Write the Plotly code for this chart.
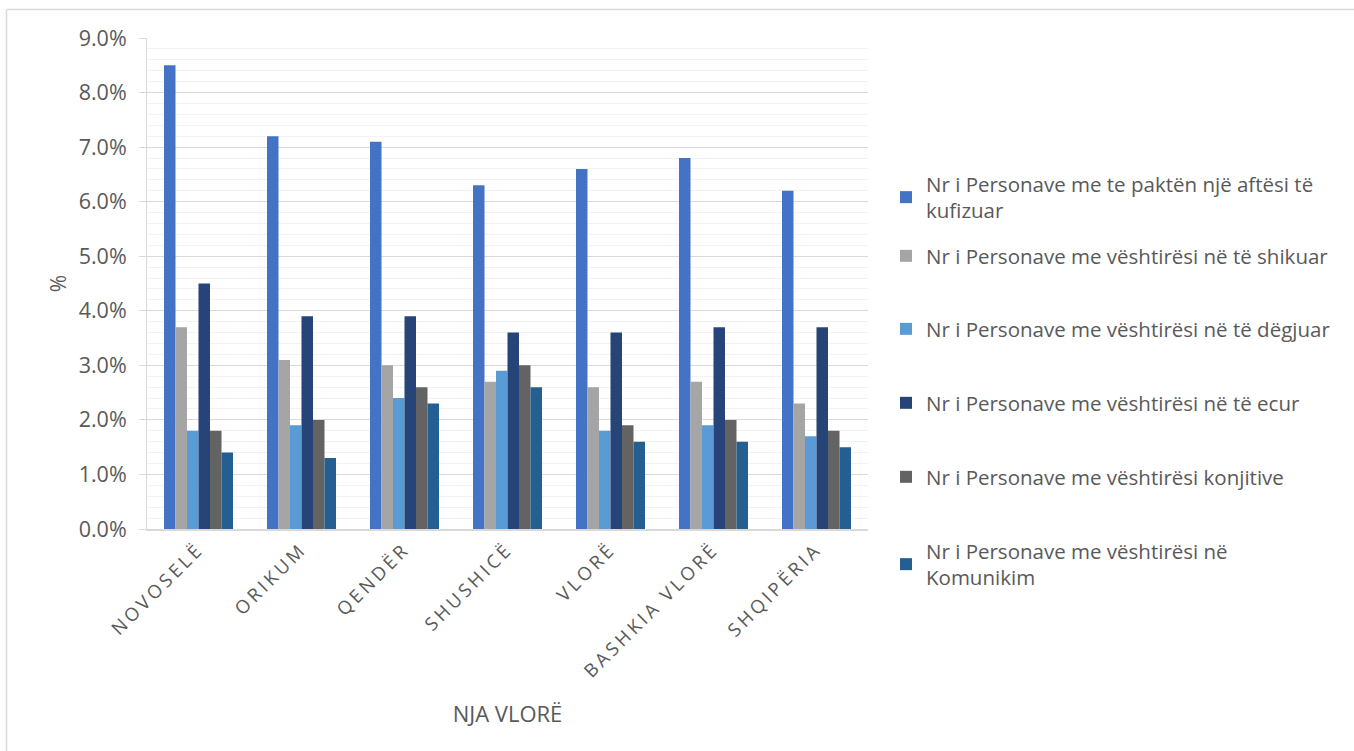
import plotly.graph_objects as go

categories = ["NOVOSELË", "ORIKUM", "QENDËR", "SHUSHICË", "VLORË", "BASHKIA VLORË", "SHQIPËRIA"]

series_names = [
    "Nr i Personave me te paktën një aftësi të<br>kufizuar",
    "Nr i Personave me vështirësi në të shikuar",
    "Nr i Personave me vështirësi në të dëgjuar",
    "Nr i Personave me vështirësi në të ecur",
    "Nr i Personave me vështirësi konjitive",
    "Nr i Personave me vështirësi në<br>Komunikim",
]

at_least_one = [8.5, 7.2, 7.1, 6.3, 6.6, 6.8, 6.2]
seeing = [3.7, 3.1, 3.0, 2.7, 2.6, 2.7, 2.3]
hearing = [1.8, 1.9, 2.4, 2.9, 1.8, 1.9, 1.7]
walking = [4.5, 3.9, 3.9, 3.6, 3.6, 3.7, 3.7]
cognitive = [1.8, 2.0, 2.6, 3.0, 1.9, 2.0, 1.8]
communication = [1.4, 1.3, 2.3, 2.6, 1.6, 1.6, 1.5]

series_values = [at_least_one, seeing, hearing, walking, cognitive, communication]
colors = ["#4472C4", "#A5A5A5", "#5B9BD5", "#264478", "#636363", "#255E91"]

W, H = 1354, 751
L, R, T, B = 147, 868, 38, 529

FONT = "Open Sans"
GREY = "#595959"

fig = go.Figure()
legend_first_line_y = [185, 257, 330, 404, 478, 552]
legend_ids = ["legend", "legend2", "legend3", "legend4", "legend5", "legend6"]

for i, (name, vals, col) in enumerate(zip(series_names, series_values, colors)):
    fig.add_trace(go.Bar(
        x=categories,
        y=[v / 100 for v in vals],
        name=name,
        marker=dict(color=col, line=dict(width=0)),
        legend=legend_ids[i],
    ))

layout_legends = {}
for i, lid in enumerate(legend_ids):
    layout_legends[lid] = dict(
        x=886 / W, xref="container", xanchor="left",
        y=1 - (legend_first_line_y[i] - 21) / H, yref="container", yanchor="top",
        font=dict(family=FONT, size=20.5, color=GREY),
        bgcolor="rgba(0,0,0,0)",
        itemclick=False, itemdoubleclick=False,
        itemwidth=30,
    )

fig.update_layout(
    width=W, height=H,
    margin=dict(l=L, r=W - R, t=T, b=H - B, pad=0),
    paper_bgcolor="white", plot_bgcolor="white",
    barmode="group", bargap=0.33, bargroupgap=0,
    font=dict(family=FONT, color=GREY),
    showlegend=True,
    **layout_legends,
)

fig.update_yaxes(
    range=[0, 0.09], dtick=0.01, tickformat=".1%",
    tickfont=dict(family=FONT, size=21.5, color=GREY),
    showgrid=True, gridcolor="#D9D9D9", gridwidth=1,
    minor=dict(dtick=0.002, showgrid=True, gridcolor="#F2F2F2", gridwidth=1),
    showline=True, linecolor="#D9D9D9", linewidth=1,
    ticks="outside", ticklen=7, tickcolor="#D9D9D9",
    ticklabelstandoff=8,
    zeroline=False,
    title=dict(text="%", font=dict(family=FONT, size=21, color=GREY), standoff=6),
)

tick_text = ['<span style="letter-spacing:3.4px">%s</span>' % c for c in categories]

fig.update_xaxes(
    tickangle=-45,
    tickmode="array", tickvals=categories, ticktext=tick_text,
    tickfont=dict(family=FONT, size=18.5, color=GREY),
    showline=True, linecolor="#D9D9D9", linewidth=2,
    showgrid=False, ticks="",
    title=dict(text="NJA VLORË", font=dict(family=FONT, size=22, color=GREY), standoff=25),
)

# outer chart border (top and left edges visible)
fig.add_shape(type="line", xref="paper", yref="paper",
              x0=(7 - L) / (R - L), x1=(W - L) / (R - L),
              y0=1 + (T - 9.5) / (B - T), y1=1 + (T - 9.5) / (B - T),
              line=dict(color="#D9D9D9", width=1.5))
fig.add_shape(type="line", xref="paper", yref="paper",
              x0=(6.5 - L) / (R - L), x1=(6.5 - L) / (R - L),
              y0=1 + (T - 9.5) / (B - T), y1=-(H - B) / (B - T),
              line=dict(color="#D9D9D9", width=1.5))

fig.write_html("out.html")
